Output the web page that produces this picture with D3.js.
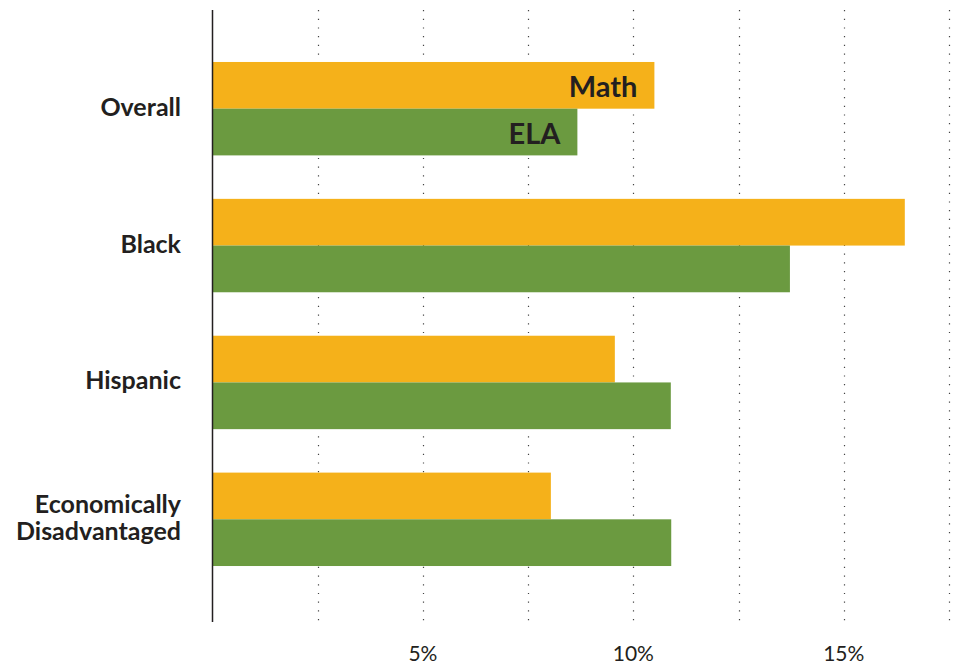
<!DOCTYPE html>
<html>
<head>
<meta charset="utf-8">
<script src="https://cdn.jsdelivr.net/npm/d3@7"></script>
<style>
  body { margin: 0; background: #fff; }
  svg { display: block; }
</style>
</head>
<body>
<svg id="chart"></svg>
<script>
var w = 953;
var h = 666;

// data
var groups = ["Overall", "Black", "Hispanic", "Economically Disadvantaged"];
var subjects = ["Math", "ELA"];
var mathValues = [10.5, 16.45, 9.56, 8.04];
var elaValues = [8.67, 13.72, 10.89, 10.9];
var tickValues = [5, 10, 15];
var gridValues = [2.5, 5, 7.5, 10, 12.5, 15, 17.5];

var colors = { Math: "#F5B11A", ELA: "#6B9A40" };
var font = "Lato, 'Open Sans', sans-serif";

var rows = groups.map(function (g, i) {
    return { group: g, Math: mathValues[i], ELA: elaValues[i] };
});

var svg = d3.select("#chart")
    .attr("width", w)
    .attr("height", h);

var x = d3.scaleLinear().domain([0, 17.5]).range([212.5, 949]);

var y = d3.scaleBand()
    .domain(groups)
    .range([40.25, 587.75])
    .paddingInner(0.3175)
    .paddingOuter(0.15875);

var ySub = d3.scaleBand()
    .domain(subjects)
    .range([0, y.bandwidth()]);

// dotted gridlines
svg.selectAll("line.grid")
    .data(gridValues)
    .enter()
    .append("line")
    .attr("class", "grid")
    .attr("x1", function (d) { return Math.round(x(d)) + 0.5; })
    .attr("x2", function (d) { return Math.round(x(d)) + 0.5; })
    .attr("y1", 10)
    .attr("y2", 622)
    .style("stroke", "#444")
    .style("stroke-width", 1.2)
    .style("stroke-dasharray", "1.2,7.5");

// bars
var g = svg.selectAll("g.group")
    .data(rows)
    .enter()
    .append("g")
    .attr("class", "group")
    .attr("transform", function (d) { return "translate(0," + y(d.group) + ")"; });

g.selectAll("rect")
    .data(function (d) {
        return subjects.map(function (s) { return { subject: s, value: d[s] }; });
    })
    .enter()
    .append("rect")
    .attr("x", x(0))
    .attr("y", function (d) { return ySub(d.subject); })
    .attr("width", function (d) { return x(d.value) - x(0); })
    .attr("height", ySub.bandwidth())
    .style("fill", function (d) { return colors[d.subject]; });

// subject labels inside the first group
var first = rows[0];
svg.selectAll("text.subject")
    .data(subjects)
    .enter()
    .append("text")
    .attr("class", "subject")
    .attr("x", function (s) { return x(first[s]) - 17; })
    .attr("y", function (s) { return y(first.group) + ySub(s) + ySub.bandwidth() / 2 + 12; })
    .attr("text-anchor", "end")
    .style("font-family", font)
    .style("font-weight", "bold")
    .style("font-size", "29px")
    .style("fill", "#231f20")
    .text(function (s) { return s; });

// category labels
var labels = svg.selectAll("text.cat")
    .data(groups)
    .enter()
    .append("text")
    .attr("class", "cat")
    .attr("text-anchor", "end")
    .style("font-family", font)
    .style("font-weight", "bold")
    .style("font-size", "25px")
    .style("fill", "#231f20");

labels.each(function (d) {
    var words = d === "Economically Disadvantaged" ? ["Economically", "Disadvantaged"] : [d];
    var cy = y(d) + y.bandwidth() / 2;
    var lh = 27;
    var start = cy - (words.length - 1) * lh / 2 + 7;
    d3.select(this).selectAll("tspan")
        .data(words)
        .enter()
        .append("tspan")
        .attr("x", 181)
        .attr("y", function (t, i) { return start + i * lh; })
        .text(function (t) { return t; });
});

// axis line
svg.append("line")
    .attr("x1", 212.5)
    .attr("x2", 212.5)
    .attr("y1", 10)
    .attr("y2", 622)
    .style("stroke", "#231f20")
    .style("stroke-width", 1.5);

// tick labels
svg.selectAll("text.tick")
    .data(tickValues)
    .enter()
    .append("text")
    .attr("class", "tick")
    .attr("x", function (d) { return x(d); })
    .attr("y", 661)
    .attr("text-anchor", "middle")
    .style("font-family", font)
    .style("font-size", "21px")
    .style("fill", "#231f20")
    .text(function (d) { return d + "%"; });
</script>
</body>
</html>
